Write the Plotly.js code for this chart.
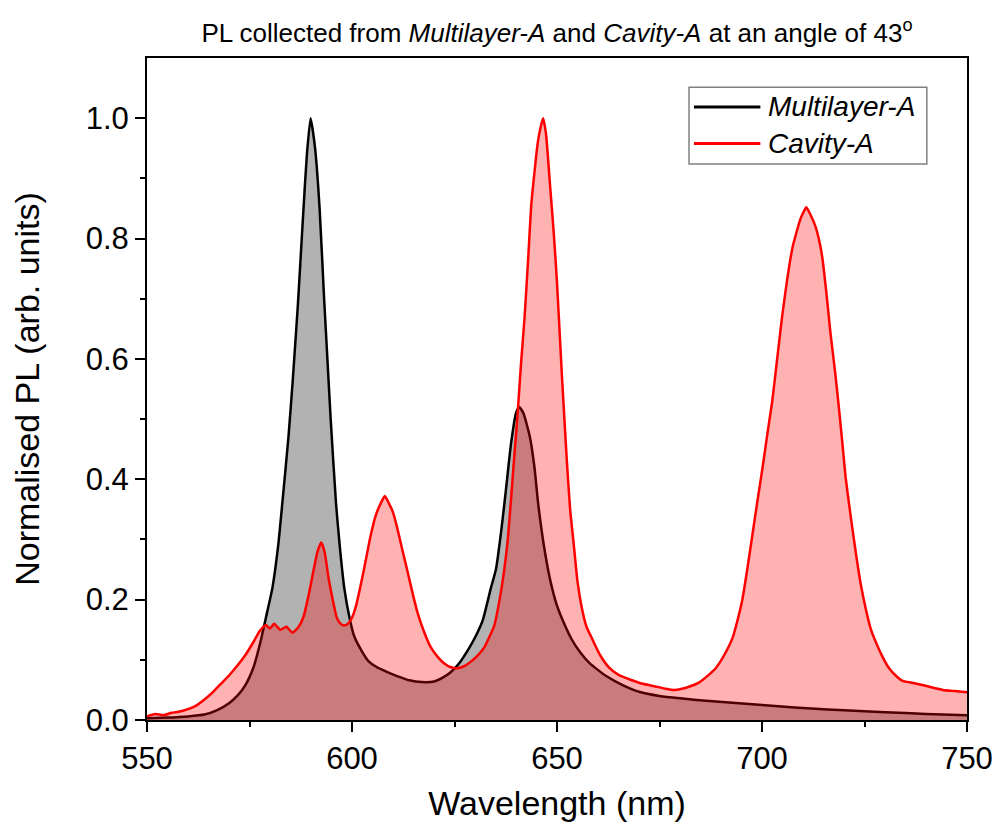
<!DOCTYPE html>
<html>
<head>
<meta charset="utf-8">
<script src="https://cdn.plot.ly/plotly-3.0.1.min.js"></script>
<style>html,body{margin:0;padding:0;background:#fff;}#chart{width:997px;height:833px;}</style>
</head>
<body>
<div id="chart"></div>
<script>
// Multilayer-A (black)
const wlMulti = [550,555,560,564,567,570,572,574,576,577.5,579,580.6,582,583,584.5,585.5,586.8,588,589,589.9,591,592.1,593.2,594,594.8,596.1,597,598.1,599.4,600.5,602.6,604,606,608.5,611,614,617,620,622,624,626,628.6,630,631.9,633.9,635.1,636.5,637.5,638.8,640,640.8,641.8,643.4,644.5,645.4,646.8,648.3,650,651.5,653.5,655.6,658,662,666,670,675,680,688,696,704,712,720,730,740,750];
const plMulti = [0.003,0.004,0.006,0.009,0.016,0.028,0.040,0.058,0.088,0.125,0.17,0.22,0.29,0.36,0.47,0.56,0.69,0.83,0.94,1.0,0.95,0.85,0.70,0.60,0.50,0.36,0.29,0.22,0.17,0.14,0.112,0.098,0.088,0.08,0.073,0.066,0.063,0.064,0.07,0.079,0.093,0.12,0.137,0.166,0.22,0.25,0.32,0.38,0.46,0.51,0.52,0.51,0.47,0.42,0.36,0.29,0.234,0.19,0.164,0.135,0.113,0.094,0.073,0.058,0.047,0.040,0.036,0.031,0.027,0.023,0.019,0.016,0.013,0.010,0.008];

// Cavity-A (red)
const wlCavity = [550,552,554,556,558,560,562,564,566,568,570,572,574,576,577.5,579,580,581,582.5,584,585.5,587,588.2,589.5,590.6,591.6,592.5,593.3,594.3,595.3,596.3,597.2,598,599,600,601,602,603.2,604.5,605.8,607,608,609,610,611,612.2,613.5,614.8,616,617.5,619.2,621,622.5,624,625.8,627.5,629,630.5,632.3,633.5,634.7,636,637.1,638,638.8,639.6,640.4,641.2,642.1,643,643.7,644.5,645.3,646,646.6,647.3,648.3,649.2,650,651.2,652.4,653.2,654.1,655,656.1,657.2,658.5,660.5,662.6,665,668.3,670,672.4,674.5,676.5,678.5,680.5,682.5,684.6,686.5,688.7,690.8,692.8,694,695.2,696.4,697.6,698.8,700.1,701.3,702.5,703.7,704.9,706.1,707.4,708.4,709.4,710.2,710.8,711.8,713.1,714,714.7,715.7,716.7,717.8,718.8,719.6,720.4,721.6,722.9,724.1,725.3,726.5,727.8,729.4,731,732.6,734.3,736.5,739.2,741.5,744.1,747,750];
const plCavity = [0.006,0.010,0.008,0.012,0.014,0.018,0.024,0.034,0.046,0.060,0.074,0.090,0.108,0.130,0.148,0.158,0.152,0.160,0.150,0.155,0.145,0.155,0.172,0.210,0.248,0.280,0.295,0.280,0.235,0.200,0.170,0.160,0.157,0.160,0.170,0.190,0.220,0.260,0.305,0.340,0.360,0.372,0.360,0.345,0.320,0.285,0.248,0.210,0.178,0.148,0.121,0.104,0.094,0.088,0.086,0.090,0.097,0.106,0.121,0.138,0.157,0.200,0.248,0.300,0.368,0.440,0.509,0.590,0.670,0.770,0.854,0.910,0.959,0.985,1.000,0.975,0.889,0.810,0.727,0.572,0.431,0.350,0.291,0.230,0.185,0.155,0.136,0.108,0.088,0.075,0.066,0.062,0.058,0.055,0.052,0.050,0.052,0.056,0.062,0.072,0.086,0.108,0.136,0.165,0.200,0.250,0.305,0.360,0.418,0.475,0.530,0.600,0.670,0.730,0.784,0.810,0.833,0.845,0.852,0.840,0.819,0.795,0.769,0.710,0.643,0.580,0.516,0.460,0.403,0.340,0.277,0.225,0.185,0.152,0.129,0.105,0.086,0.074,0.065,0.062,0.058,0.054,0.050,0.048,0.046];

const seriesNames = ['Multilayer-A','Cavity-A'];
const xTicks = [550,600,650,700,750];
const yTicks = [0.0,0.2,0.4,0.6,0.8,1.0];

const FONT = 'Liberation Sans, Arial, sans-serif';

const traces = [
  {x: wlMulti, y: plMulti, name: seriesNames[0], type:'scatter', mode:'lines',
   line:{color:'#000000', width:2.5, shape:'spline', smoothing:0.5},
   fill:'tozeroy', fillcolor:'rgba(0,0,0,0.30)', showlegend:false},
  {x: wlCavity, y: plCavity, name: seriesNames[1], type:'scatter', mode:'lines',
   line:{color:'#ff0000', width:2.5, shape:'spline', smoothing:0.5},
   fill:'tozeroy', fillcolor:'rgba(255,0,0,0.30)', showlegend:false}
];

// legend geometry in paper coords
const lgX0 = 0.661, lgX1 = 0.951, lgY0 = 0.840, lgY1 = 0.956;
const lgRows = [0.926, 0.871];
const lgColors = ['#000000','#ff0000'];

const shapes = [
  {type:'rect', xref:'paper', yref:'paper', x0:lgX0, x1:lgX1, y0:lgY0, y1:lgY1,
   line:{color:'#808080', width:1.5}, fillcolor:'rgba(255,255,255,1)', layer:'above'}
];
const annotations = [];
seriesNames.forEach((n,i)=>{
  shapes.push({type:'line', xref:'paper', yref:'paper', x0:0.667, x1:0.748, y0:lgRows[i], y1:lgRows[i],
    line:{color:lgColors[i], width:3}, layer:'above'});
  annotations.push({xref:'paper', yref:'paper', x:0.755, y:lgRows[i], xanchor:'left', yanchor:'middle',
    text:'<i>'+n+'</i>', showarrow:false, font:{family:FONT, size:28, color:'#000'}});
});

const layout = {
  width:997, height:833,
  margin:{l:147, r:30, t:58, b:112.5},
  paper_bgcolor:'#fff', plot_bgcolor:'#fff',
  font:{family:FONT, color:'#000'},
  title:{text:'PL collected from <i>Multilayer-A</i> and <i>Cavity-A</i> at an angle of 43<sup>o</sup>',
    font:{family:FONT, size:26, color:'#000'}, xref:'paper', x:0.5, xanchor:'center',
    yref:'container', y:0.96, yanchor:'middle'},
  xaxis:{range:[550,750], tickvals:xTicks, ticktext:xTicks.map(String), ticks:'outside', ticklen:10, tickwidth:2,
    tickcolor:'#000', showline:true, linewidth:2, linecolor:'#000', mirror:true, showgrid:false, zeroline:false,
    minor:{tickvals:[575,625,675,725], ticks:'outside', ticklen:5, tickwidth:2, tickcolor:'#000', showgrid:false},
    tickfont:{family:FONT, size:31, color:'#000'},
    title:{text:'Wavelength (nm)', font:{family:FONT, size:34, color:'#000'}, standoff:16}},
  yaxis:{range:[0,1.1], tickvals:yTicks, ticktext:yTicks.map(v=>v.toFixed(1)), ticks:'outside', ticklen:10, tickwidth:2,
    tickcolor:'#000', showline:true, linewidth:2, linecolor:'#000', mirror:true, showgrid:false, zeroline:false,
    minor:{tickvals:[0.1,0.3,0.5,0.7,0.9], ticks:'outside', ticklen:5, tickwidth:2, tickcolor:'#000', showgrid:false},
    tickfont:{family:FONT, size:31, color:'#000'},
    title:{text:'Normalised PL (arb. units)', font:{family:FONT, size:34, color:'#000'}, standoff:36}},
  xaxis2:{overlaying:'x', side:'top', anchor:'y', range:[550,750], tickvals:xTicks, ticks:'inside', ticklen:10, tickwidth:2,
    tickcolor:'#000', showticklabels:false, showline:false, showgrid:false, zeroline:false,
    minor:{tickvals:[575,625,675,725], ticks:'inside', ticklen:5, tickwidth:2, tickcolor:'#000', showgrid:false}},
  yaxis2:{overlaying:'y', side:'right', anchor:'x', range:[0,1.1], tickvals:yTicks, ticks:'inside', ticklen:10, tickwidth:2,
    tickcolor:'#000', showticklabels:false, showline:false, showgrid:false, zeroline:false,
    minor:{tickvals:[0.1,0.3,0.5,0.7,0.9], ticks:'inside', ticklen:5, tickwidth:2, tickcolor:'#000', showgrid:false}},
  shapes: shapes,
  annotations: annotations,
  showlegend:false
};

Plotly.newPlot('chart', traces, layout, {displayModeBar:false, staticPlot:true});
</script>
</body>
</html>
